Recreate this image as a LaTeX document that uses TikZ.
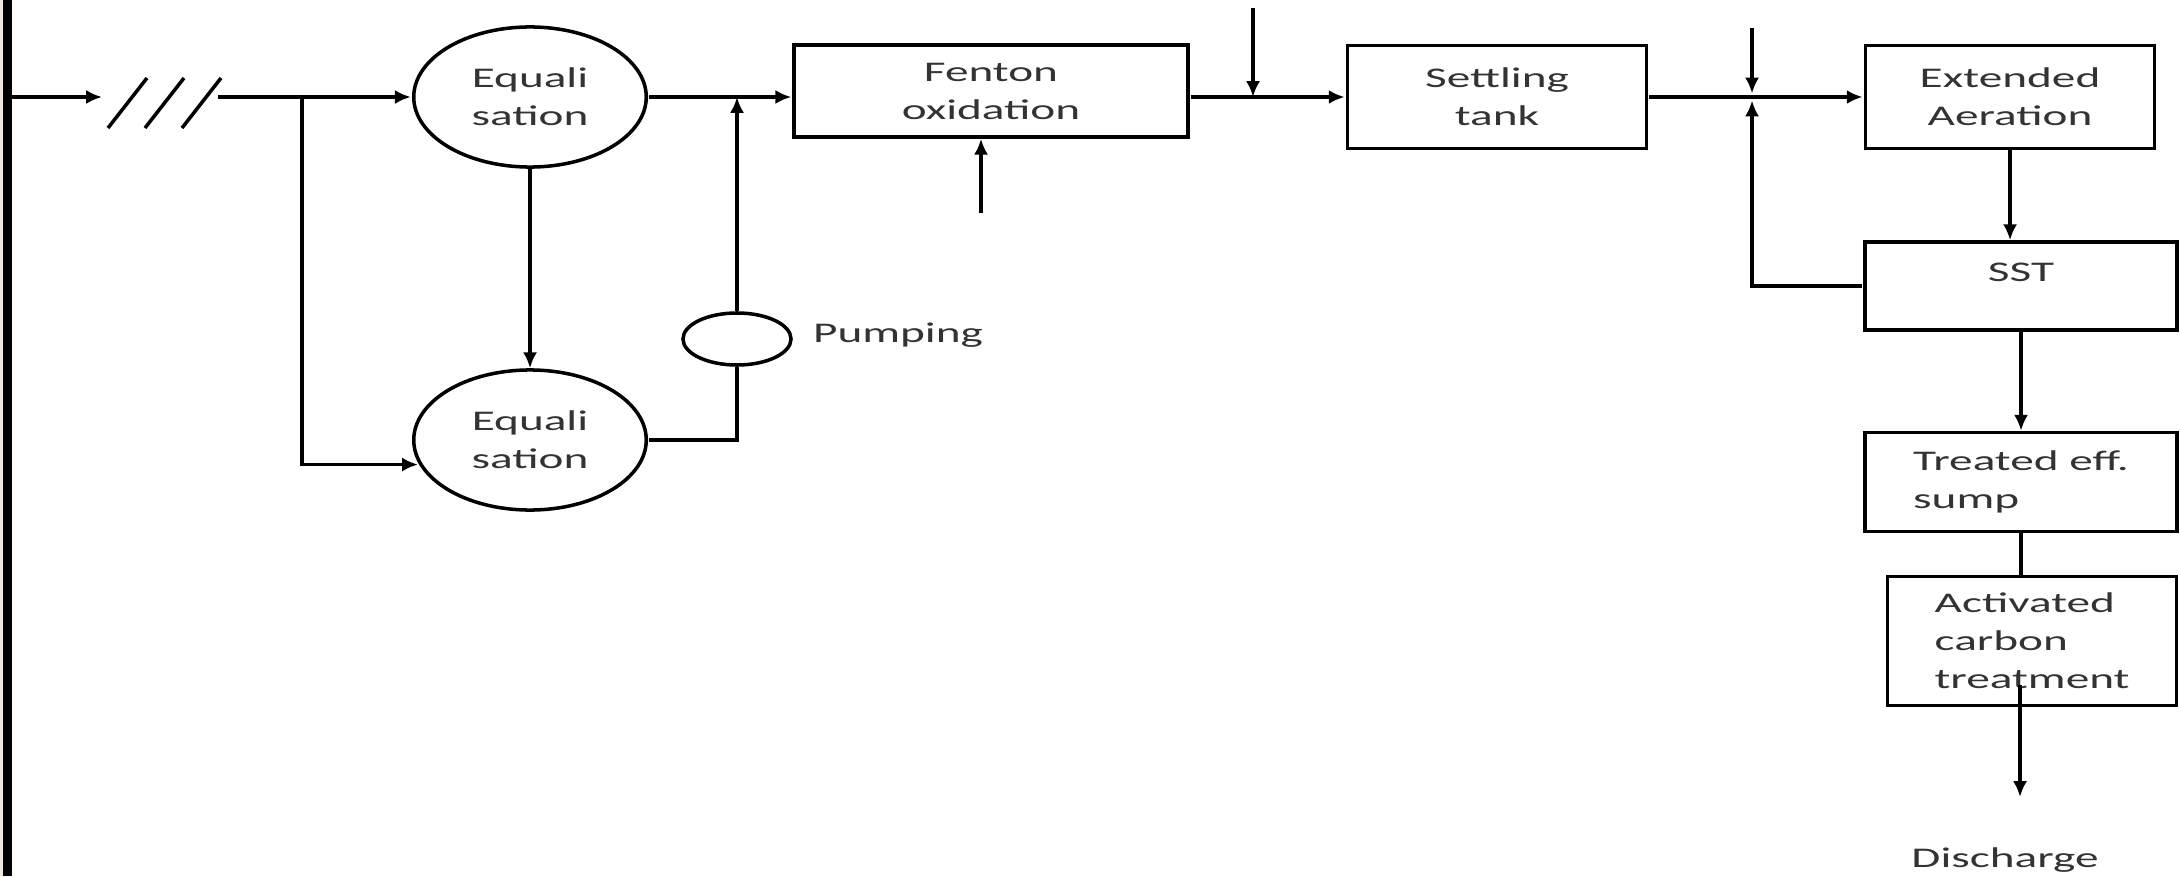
\documentclass[tikz,border=0pt]{standalone}
\usepackage{fontspec}
\usepackage{tikz}
\usetikzlibrary{arrows.meta}
\usetikzlibrary{shapes.geometric}
\usetikzlibrary{positioning}
\newfontfamily\flowfont{Carlito}
\definecolor{randbeige}{RGB}{240,232,220}
\tikzset{
  txt/.style={text=black!80, align=center, xscale=1.66}, % gestreckte Schrift
  unit/.style={txt, draw, rectangle, inner sep=0pt}, % Becken / Stufe
  tank/.style={txt, draw, circle, minimum size=1.4cm, inner sep=0pt} % Ausgleichsbecken
}

\begin{document}
\begin{tikzpicture}[
x=0.01cm, y=-0.01cm, line width=1pt,
font=\flowfont\fontsize{8.1}{10.8}\selectfont,
>={Latex[length=4.5pt,width=4pt]} % Pfeilspitzen
]
\useasboundingbox (0,0) rectangle (2180,876);

%Rand
\fill[randbeige] (0,0) rectangle (3,876);
\fill[black] (3,0) rectangle (12,876);

%Bauteile
\node[tank] (eq1) at (530,97) {Equali\\sation};
\node[tank] (eq2) at (530,440) {Equali\\sation};
\node[draw, ellipse, minimum width=1.08cm, minimum height=0.52cm] (pump) at (737,339) {};
\node[txt] (pumplbl) at (898,335) {Pumping};
\node[unit, minimum width=2.37cm, minimum height=0.92cm] (fen) at (991,91) {Fenton\\oxidation};
\node[unit, minimum width=1.80cm, minimum height=1.03cm] (set) at (1497,97) {Settling\\tank};
\node[unit, minimum width=1.74cm, minimum height=1.03cm] (ext) at (2010,97) {Extended\\Aeration};
\node[unit, text depth=0.28cm, minimum width=1.88cm, minimum height=0.88cm] (sst) at (2021,286) {SST};
\node[unit, align=left, minimum width=1.88cm, minimum height=0.99cm] (trt) at (2021,482) {Treated eff.\\sump};
\node[unit, align=left, minimum width=1.74cm, minimum height=1.29cm] (act) at (2032,641) {Activated\\carbon\\treatment};
\node[txt] (dis) at (2005,860) {Discharge};

%Hilfspunkte
\coordinate (inlet) at (12,97);
\coordinate (brkA) at (102,97);
\coordinate (brkB) at (218,97);
\coordinate (split) at (302,97);
\coordinate (dose1) at (981,213);
\coordinate (dose2) at (1253,8);
\coordinate (dose3) at (1752,28);
\coordinate (outtop) at (2020,685);
\coordinate (outlet) at (2020,797);

%Unterbrechung
\foreach \d in {0,37,74}
  \draw (108+\d,128) -- (147+\d,78);

%Leitungen
\draw[->] (inlet) -- (brkA);
\draw[->] (brkB) -- (eq1);
\draw[->] (split) |- (eq2.200);
\draw[->] (eq1) -- (eq2);
\draw (eq2.east) -| (pump.south);
\draw[->] (pump.north) -- (pump.north |- eq1.east);
\draw[->] (eq1.east) -- (eq1.east -| fen.west);
\draw[->] (dose1) -- (dose1 |- fen.south);
\draw[->] (eq1.east -| fen.east) -- (set.west);
\draw[->] (dose2) -- (dose2 |- set.west);
\draw[->] (set.east) -- (ext.west);
\draw[->, shorten >=1pt] (dose3) -- (dose3 |- ext.west);
\draw[->, shorten >=1pt] (sst.west) -| (dose3 |- ext.west);
\draw[->] (ext.south) -- (ext.south |- sst.north);
\draw[->] (sst.south) -- (trt.north);
\draw (trt.south) -- (trt.south |- act.north);
\draw[->] (outtop) -- (outlet);

\end{tikzpicture}
\end{document}
